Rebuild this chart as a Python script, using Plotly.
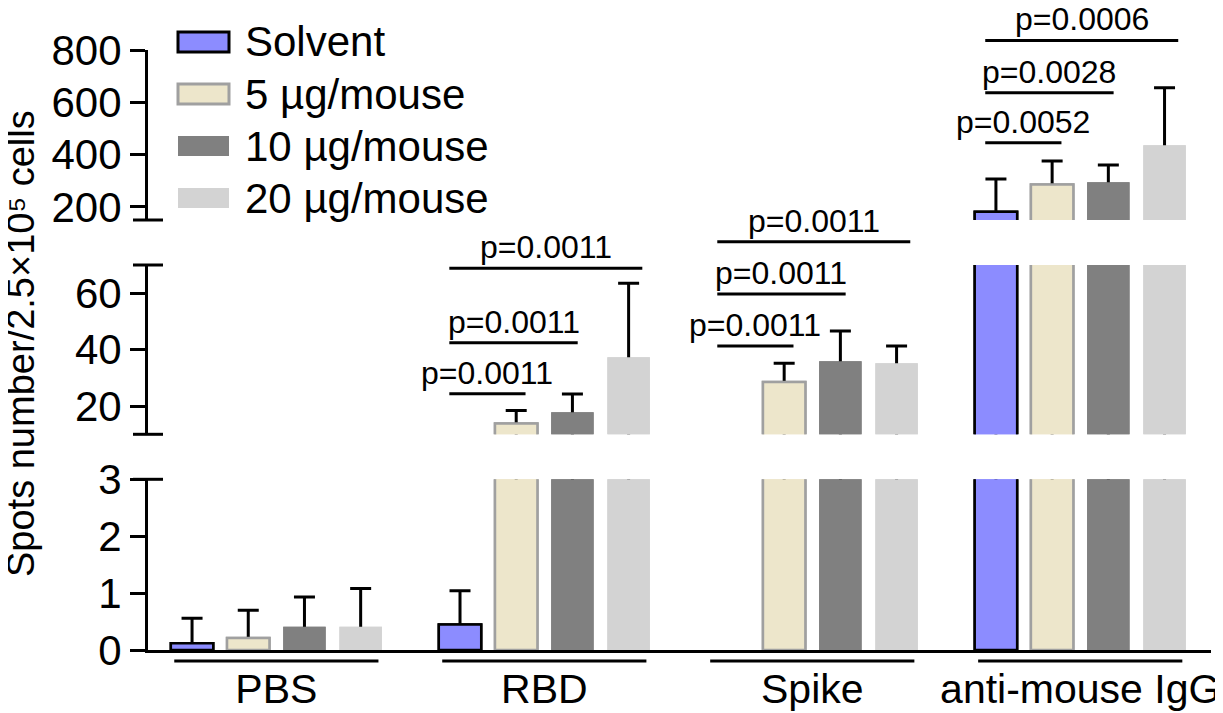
import plotly.graph_objects as go

# ---------------- data ----------------
categories = ["PBS", "RBD", "Spike", "anti-mouse IgG"]
series_names = ["Solvent", "5 µg/mouse", "10 µg/mouse", "20 µg/mouse"]

solvent_mean = [0.12, 0.45, None, 182]
solvent_err = [0.44, 0.59, None, 125]
ug5_mean = [0.21, 13.8, 28.5, 286]
ug5_err = [0.49, 4.6, 6.7, 90]
ug10_mean = [0.41, 17.8, 35.9, 294]
ug10_err = [0.52, 6.5, 10.7, 66]
ug20_mean = [0.41, 37.3, 35.2, 436]
ug20_err = [0.67, 26.2, 6.1, 220]

# significance comparisons (category, compared dose index, label)
sig_category = ["RBD", "RBD", "RBD", "Spike", "Spike", "Spike",
                "anti-mouse IgG", "anti-mouse IgG", "anti-mouse IgG"]
sig_target = [1, 2, 3, 1, 2, 3, 1, 2, 3]
sig_label = ["p=0.0011", "p=0.0011", "p=0.0011",
             "p=0.0011", "p=0.0011", "p=0.0011",
             "p=0.0052", "p=0.0028", "p=0.0006"]

bottom_ticks = [0, 1, 2, 3]
middle_ticks = [20, 40, 60]
top_ticks = [200, 400, 600, 800]

# ---------------- layout constants ----------------
PAGE_OFF = 8                      # default page margin around the figure
W, H = 1223 - PAGE_OFF, 713 - PAGE_OFF
PLOT_LEFT, PLOT_TOP = 148, 50     # on-screen position of the plot area
PW, PH = 1063, 600
L, T = PLOT_LEFT - PAGE_OFF, PLOT_TOP - PAGE_OFF
R, B = W - L - PW, H - T - PH
FONT = "Liberation Sans, Arial, DejaVu Sans, sans-serif"
BIG = 42
CAT = 41
TITLE = 38
SMALL = 32


def ppy(p):  # on-screen pixel y -> paper y
    return (PLOT_TOP + PH - p) / PH


def ppx(p):  # on-screen pixel x -> paper x
    return (p - PLOT_LEFT) / PW


fills = ["#8C8CFF", "#EDE6CB", "#808080", "#D3D3D3"]
outlines = ["black", "#A0A0A0", "#808080", "#D3D3D3"]
outline_w = [2.5, 2.5, 0, 0]
means = [solvent_mean, ug5_mean, ug10_mean, ug20_mean]
errs = [solvent_err, ug5_err, ug10_err, ug20_err]

dom_bottom = [0, ppy(479.3)]
dom_middle = [ppy(434.3), ppy(265)]
dom_top = [ppy(220), 1.0]

fig = go.Figure()
for yax in ["y", "y2", "y3"]:
    # error-bar carriers (drawn underneath)
    for i in range(4):
        fig.add_trace(go.Bar(
            x=categories, y=means[i], yaxis=yax, xaxis="x",
            offsetgroup=str(i), name=series_names[i], showlegend=False,
            marker=dict(color=fills[i], line=dict(color=outlines[i], width=outline_w[i])),
            error_y=dict(type="data", symmetric=False, array=errs[i],
                         arrayminus=means[i], color="black", thickness=3, width=10.5),
            hoverinfo="skip"))
    # bars on top
    for i in range(4):
        fig.add_trace(go.Bar(
            x=categories, y=means[i], yaxis=yax, xaxis="x",
            offsetgroup=str(i), name=series_names[i], showlegend=False,
            marker=dict(color=fills[i], line=dict(color=outlines[i], width=outline_w[i]))))

axis_common = dict(showgrid=False, zeroline=False, showline=True, linecolor="black",
                   linewidth=3, ticks="outside", ticklen=15, tickwidth=3,
                   tickcolor="black", tickfont=dict(family=FONT, size=BIG, color="black"),
                   anchor="x", automargin=False)

fig.update_layout(
    width=W, height=H, margin=dict(l=L, r=R, t=T, b=B, autoexpand=False),
    paper_bgcolor="white", plot_bgcolor="white",
    barmode="group", bargap=0.161, bargroupgap=0.245,
    showlegend=False,
    font=dict(family=FONT, color="black"),
    xaxis=dict(range=[-0.479, 3.488], showgrid=False, zeroline=False, showline=True,
               linecolor="black", linewidth=3, ticks="", anchor="y", automargin=False,
               tickfont=dict(family=FONT, size=CAT, color="black"),
               ticklabelstandoff=1),
    yaxis=dict(domain=dom_bottom, range=[0, 3], tickvals=bottom_ticks, **axis_common),
    yaxis2=dict(domain=dom_middle, range=[10, 70], tickvals=middle_ticks, **axis_common),
    yaxis3=dict(domain=dom_top, range=[150, 800], tickvals=top_ticks, **axis_common),
)

shapes = []
annotations = []

# broken-axis end caps
for yp in [dom_top[0], dom_middle[0], dom_middle[1], dom_bottom[1]]:
    shapes.append(dict(type="line", xref="paper", yref="paper", xsizemode="pixel",
                       xanchor=0, x0=-15, x1=15, y0=yp, y1=yp,
                       line=dict(color="black", width=3)))

# category underline bars
for ci, c in enumerate(categories):
    shapes.append(dict(type="line", xref="x", yref="paper", ysizemode="pixel",
                       yanchor=0, x0=ci - 0.381, x1=ci + 0.381, y0=-11, y1=-11,
                       line=dict(color="black", width=3)))

# significance brackets
bracket_px_y = {"RBD": [393.7, 342.7, 268.3],
                "Spike": [346, 294, 241.7],
                "anti-mouse IgG": [142.7, 92.7, 40.5]}
start_off = -0.3545
end_off = {1: -0.0701, 2: 0.1246, 3: 0.3657}
for cat, tgt, lab in zip(sig_category, sig_target, sig_label):
    ci = categories.index(cat)
    yp = ppy(bracket_px_y[cat][tgt - 1])
    x0, x1 = ci + start_off, ci + end_off[tgt]
    shapes.append(dict(type="line", xref="x", yref="paper", x0=x0, x1=x1, y0=yp, y1=yp,
                       line=dict(color="black", width=3)))
    annotations.append(dict(text=lab, xref="x", yref="paper", x=(x0 + x1) / 2, y=yp,
                            xanchor="center", yanchor="bottom", yshift=1, showarrow=False,
                            font=dict(family=FONT, size=SMALL, color="black")))

# custom legend
for i, nm in enumerate(series_names):
    cy = 42 + 52 * i
    shapes.append(dict(type="rect", xref="paper", yref="paper",
                       x0=ppx(178), x1=ppx(229), y0=ppy(cy - 10), y1=ppy(cy + 10),
                       fillcolor=fills[i],
                       line=dict(color=outlines[i], width=outline_w[i] + 0.5 if outline_w[i] else 0)))
    annotations.append(dict(text=nm, xref="paper", yref="paper", x=ppx(243), y=ppy(cy),
                            xanchor="left", yanchor="middle", showarrow=False,
                            font=dict(family=FONT, size=BIG, color="black")))

# y-axis title
annotations.append(dict(text="Spots number/2.5×10⁵ cells", xref="paper", yref="paper",
                        x=ppx(21), y=ppy(344), textangle=-90, xanchor="center",
                        yanchor="middle", showarrow=False,
                        font=dict(family=FONT, size=TITLE, color="black")))

fig.update_layout(shapes=shapes, annotations=annotations)
fig.write_html("out.html")
